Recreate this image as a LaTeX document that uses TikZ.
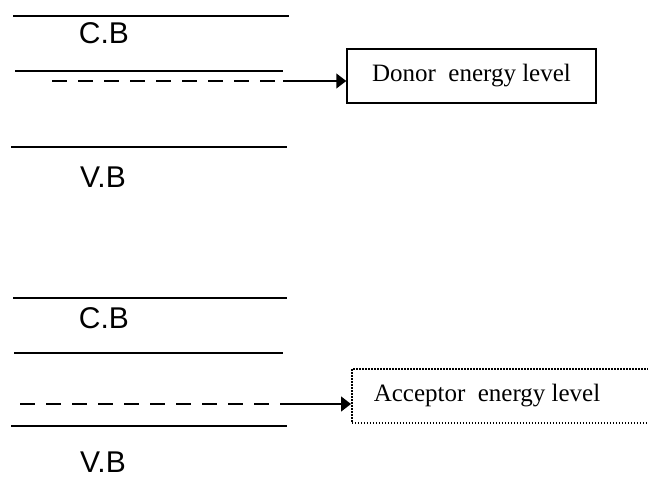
\documentclass[tikz,border=0pt]{standalone}
\usepackage{fontspec}
\setmainfont{Liberation Serif}
\setsansfont{Liberation Sans}
\usetikzlibrary{arrows.meta}

\begin{document}
\begin{tikzpicture}[x=1pt, y=-1pt, line width=1.5pt, >={Triangle[length=10pt,width=15pt]}]

  \tikzstyle{band}=[line width=1.6pt]
  \tikzstyle{level}=[line width=1.4pt, dash pattern=on 15pt off 11pt]
  \tikzstyle{bandlabel}=[font=\sffamily\fontsize{30}{34}\selectfont, inner sep=0pt]
  \tikzstyle{donorbox}=[draw, rectangle, line width=1.5pt, minimum width=249pt, minimum height=54pt, font=\fontsize{25}{30}\selectfont]
  \tikzstyle{accbox}=[draw, rectangle, line width=1.5pt, dash pattern=on 1.5pt off 1.5pt, minimum height=54pt, inner xsep=22pt, font=\fontsize{25}{30}\selectfont]

  \clip (0,0) rectangle (648,485);

  % n-type
  \draw[band] (13,16) -- (289,16);
  \node[bandlabel] (cb1) at (104,33) {C.B};
  \draw[band] (15,71) -- (283,71);
  \coordinate (d1) at (52,81);
  \coordinate (d2) at (283,81);
  \draw[level] (d1) -- (d2);
  \draw[band] (11,147) -- (287,147);
  \node[bandlabel] (vb1) at (103,177) {V.B};
  \node[donorbox] (donor) at (471.5,76) {Donor\ \ energy level};

  % p-type
  \draw[band] (13,298) -- (287,298);
  \node[bandlabel] (cb2) at (104,318) {C.B};
  \draw[band] (14,353) -- (283,353);
  \coordinate (a1) at (20,404);
  \coordinate (a2) at (283,404);
  \draw[level] (a1) -- (a2);
  \draw[band] (11,426) -- (287,426);
  \node[bandlabel] (vb2) at (103,462) {V.B};
  \node[accbox, anchor=west] (acceptor) at (351,396) {\makebox[256pt][l]{Acceptor\ \ energy level}};

  % Arrows to the boxes
  \draw[->] (d2) -- (d2 -| donor.west);
  \draw[->] (a2) -- (a2 -| acceptor.west);

\end{tikzpicture}
\end{document}
